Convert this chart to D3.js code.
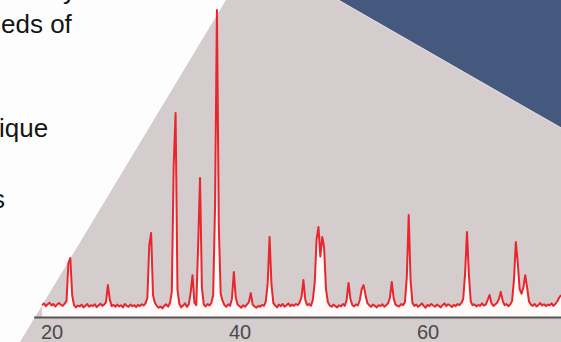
<!DOCTYPE html>
<html>
<head>
<meta charset="utf-8">
<script src="https://cdn.jsdelivr.net/npm/d3@7"></script>
<style>
  body { margin: 0; background: #fdfdfd; }
  svg { display: block; }
</style>
</head>
<body>
<div id="chart-container"></div>
<script>
// XRD pattern: counts every 0.2 degrees of 2-theta, starting at 19.0

const startAngle = 19.0
const angleStep = 0.2
const counts = [
  38, 44, 35, 41, 46, 37, 42, 34, 40, 45,
  39, 36, 43, 52, 175, 190, 70, 38, 31, 37,
  34, 40, 31, 36, 42, 33, 38, 35, 41, 32,
  37, 43, 36, 40, 48, 103, 56, 35, 39, 33,
  40, 34, 38, 31, 42, 36, 33, 40, 35, 38,
  32, 39, 35, 41, 37, 44, 62, 230, 271, 70,
  46, 36, 30, 34, 28, 36, 41, 33, 45, 82,
  490, 658, 88, 42, 31, 37, 44, 33, 40, 78,
  135, 46, 38, 230, 448, 95, 40, 34, 42, 37,
  45, 70, 360, 990, 290, 75, 52, 38, 33, 41,
  36, 60, 145, 62, 40, 35, 30, 38, 33, 41,
  48, 77, 40, 34, 30, 36, 33, 39, 36, 50,
  110, 258, 105, 45, 37, 31, 40, 35, 42, 33,
  38, 44, 35, 40, 36, 42, 38, 47, 65, 119,
  55, 38, 42, 36, 55, 110, 250, 290, 195, 258,
  225, 90, 48, 37, 33, 40, 35, 31, 38, 34,
  42, 36, 55, 110, 58, 39, 34, 41, 37, 55,
  90, 103, 72, 45, 38, 33, 40, 36, 31, 38,
  35, 41, 33, 38, 44, 62, 113, 60, 40, 36,
  34, 42, 38, 48, 130, 329, 118, 45, 36, 40,
  33, 38, 44, 36, 30, 39, 35, 42, 37, 33,
  40, 36, 31, 38, 44, 35, 41, 37, 32, 39,
  35, 42, 38, 45, 58, 140, 274, 138, 50, 38,
  41, 34, 39, 36, 44, 37, 40, 55, 71, 45,
  36, 40, 46, 58, 81, 52, 38, 42, 35, 40,
  52, 120, 242, 175, 90, 75, 95, 135, 95, 50,
  40, 36, 42, 34, 39, 45, 37, 41, 35, 40,
  38, 44, 36, 42, 50, 62, 71,
]
const tickValues = [20, 40, 60]

// bits of slide text left of the picture
const slideLines = ['y', 'eds of', 'ique', 's']
const slidePos = [[63, -1], [1, 33], [-1, 137], [-8, 208]]

const width = 561
const height = 342

const dataset = counts.map((c, i) => ({ angle: startAngle + i * angleStep, value: c }))

const x = d3.scaleLinear().domain([18.1, 74.4]).range([33.64, 562.86])
const y = d3.scaleLinear().domain([0, 1000]).range([317, 7])

const svg = d3
  .select('#chart-container')
  .append('svg')
  .attr('width', width)
  .attr('height', height)

// slide background shapes
svg.append('rect').attr('width', width).attr('height', height).attr('fill', '#fdfdfd')

svg
  .append('path')
  .attr('d', 'M20,342L226,0H561V342Z')
  .attr('fill', '#d4cccd')

svg
  .append('path')
  .attr('d', 'M338,0H561V128Z')
  .attr('fill', '#44597d')

svg
  .append('line')
  .attr('x1', 338).attr('y1', 0)
  .attr('x2', 561).attr('y2', 128)
  .attr('stroke', '#e6dcd9')
  .attr('stroke-width', 1.2)

svg
  .selectAll('.slideText')
  .data(slideLines)
  .enter()
  .append('text')
  .classed('slideText', true)
  .attr('x', (d, i) => slidePos[i][0])
  .attr('y', (d, i) => slidePos[i][1])
  .attr('font-family', 'Liberation Sans, Arial, sans-serif')
  .attr('font-size', 26)
  .attr('fill', '#151515')
  .text((d) => d)

// area under the pattern, then the red trace

const area = d3
  .area()
  .x((d) => x(d.angle))
  .y0(y(0))
  .y1((d) => y(d.value))

const line = d3
  .line()
  .x((d) => x(d.angle))
  .y((d) => y(d.value))

svg
  .append('path')
  .datum(dataset)
  .attr('fill', '#fffafa')
  .attr('d', area)

svg
  .append('path')
  .datum(dataset)
  .attr('fill', 'none')
  .attr('stroke', '#e8262b')
  .attr('stroke-width', 2)
  .attr('stroke-linejoin', 'round')
  .attr('d', line)

// x-axis

const g = svg.append('g').attr('transform', `translate(0,${y(0)})`)

g.call(
  d3
    .axisBottom(x)
    .tickValues(tickValues)
    .tickSize(0)
    .tickPadding(8)
    .tickFormat(d3.format('d'))
)
g.select('.domain').attr('stroke', '#555').attr('stroke-width', 2)
g.selectAll('text')
  .attr('font-family', 'Liberation Sans, Arial, sans-serif')
  .attr('font-size', 20)
  .attr('fill', '#4a4a4a')
</script>
</body>
</html>
